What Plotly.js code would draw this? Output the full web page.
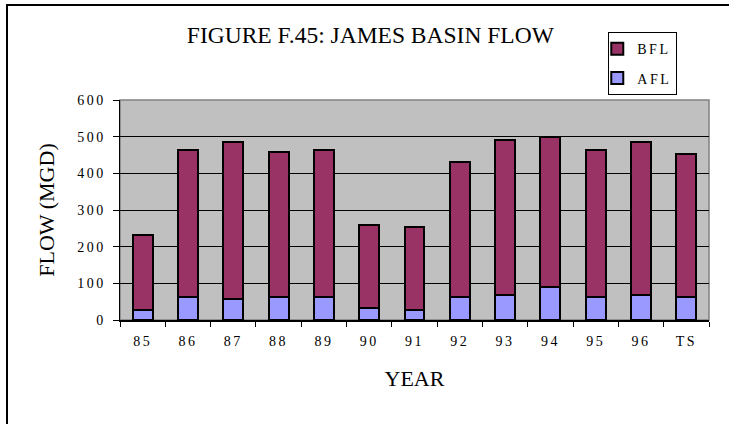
<!DOCTYPE html>
<html>
<head>
<meta charset="utf-8">
<script src="https://cdn.plot.ly/plotly-3.0.1.min.js"></script>
<style>
  html, body { margin: 0; padding: 0; background: #ffffff; }
  #frame { position: absolute; left: 6px; top: 4px; width: 760px; height: 460px; border: 2px solid #000; box-sizing: border-box; }
  #chart { position: absolute; left: 0; top: 0; width: 729px; height: 424px; }
  .xtick text, .ytick text, .legendtext { letter-spacing: 2.5px; }
</style>
</head>
<body>
<div id="frame"></div>
<div id="chart"></div>
<script>
const years = ["85", "86", "87", "88", "89", "90", "91", "92", "93", "94", "95", "96", "TS"];
const afl = [27, 62, 56, 62, 62, 33, 27, 62, 68, 89, 62, 68, 62];
const bfl = [205, 402, 430, 396, 402, 227, 228, 368, 423, 409, 402, 418, 391];
const yTicks = [0, 100, 200, 300, 400, 500, 600];

const serif = "'Liberation Serif', 'Times New Roman', serif";

const traces = [
  {
    type: "bar", name: "AFL", x: years, y: afl, legendgroup: "a", legendrank: 2,
    marker: { color: "#9999FF", line: { color: "#000000", width: 2 } }
  },
  {
    type: "bar", name: "BFL", x: years, y: bfl, legendgroup: "b", legendrank: 1,
    marker: { color: "#993366", line: { color: "#000000", width: 2 } }
  }
];

const layout = {
  width: 729, height: 424,
  margin: { l: 120, r: 20, t: 100, b: 104 },
  barmode: "stack",
  bargap: 0.56,
  paper_bgcolor: "rgba(0,0,0,0)",
  plot_bgcolor: "#C0C0C0",
  font: { family: serif, color: "#000000", size: 14 },
  title: {
    text: "FIGURE F.45: JAMES BASIN FLOW",
    font: { family: serif, size: 23.5, color: "#000000" },
    x: 0.508, xanchor: "center", xref: "container",
    y: 0.918, yanchor: "middle", yref: "container"
  },
  xaxis: {
    type: "category",
    tickson: "boundaries",
    ticks: "outside", ticklen: 5, tickcolor: "#000", tickwidth: 1,
    showline: true, linecolor: "#000", linewidth: 1.5,
    showgrid: false,
    ticklabelstandoff: 8,
    tickfont: { family: serif, size: 14 },
    title: { text: "YEAR", font: { family: serif, size: 22 }, standoff: 22 },
    fixedrange: true
  },
  yaxis: {
    range: [0, 600],
    tickvals: yTicks,
    ticks: "outside", ticklen: 6, tickcolor: "#000", tickwidth: 1,
    showline: true, linecolor: "#000", linewidth: 1.5,
    showgrid: true, gridcolor: "#000000", gridwidth: 1,
    zeroline: false,
    ticklabelstandoff: 4,
    tickfont: { family: serif, size: 14 },
    title: { text: "FLOW (MGD)", font: { family: serif, size: 22 }, standoff: 16 },
    fixedrange: true
  },
  legend: {
    x: 0.829, xanchor: "left", xref: "paper",
    y: 1.308, yanchor: "top", yref: "paper",
    bgcolor: "#ffffff", bordercolor: "#000000", borderwidth: 1,
    traceorder: "grouped",
    tracegroupgap: 8,
    indentation: -12,
    font: { family: serif, size: 14 },
    itemwidth: 30
  },
  shapes: [
    { type: "rect", xref: "paper", yref: "paper", x0: 0, x1: 1, y0: 0, y1: 1,
      line: { color: "#808080", width: 1.5 }, fillcolor: "rgba(0,0,0,0)", layer: "below" }
  ]
};

Plotly.newPlot("chart", traces, layout, { displayModeBar: false, staticPlot: true });
</script>
</body>
</html>
